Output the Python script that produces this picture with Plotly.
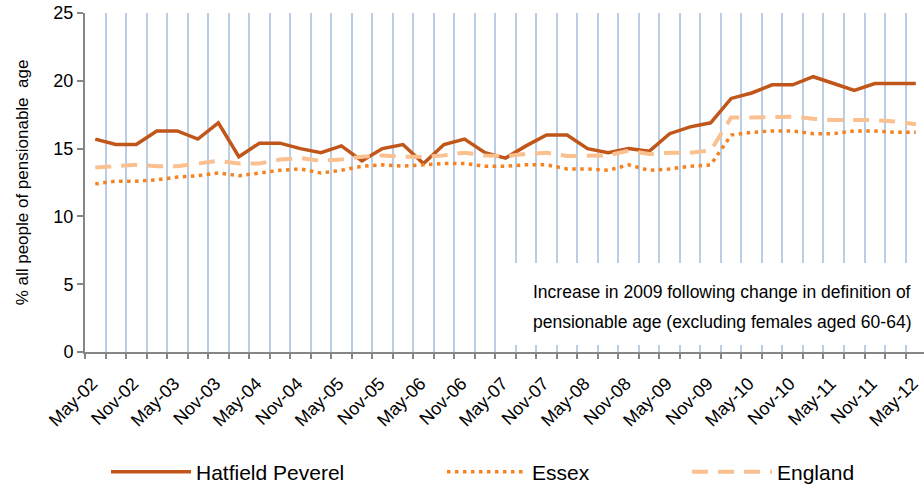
import plotly.graph_objects as go

quarters = []
months = ["Feb", "May", "Aug", "Nov"]
for yr in range(2, 13):
    for m in months:
        quarters.append(f"{m}-{yr:02d}")
categories = quarters[1:42]  # May-02 .. May-12 (41 quarters)

hatfield = [15.7, 15.3, 15.3, 16.3, 16.3, 15.7, 16.9, 14.4, 15.4, 15.4,
            15.0, 14.7, 15.2, 14.1, 15.0, 15.3, 13.9, 15.3, 15.7, 14.7,
            14.3, 15.2, 16.0, 16.0, 15.0, 14.7, 15.0, 14.8, 16.1, 16.6,
            16.9, 18.7, 19.1, 19.7, 19.7, 20.3, 19.8, 19.3, 19.8, 19.8, 19.8]
essex = [12.4, 12.6, 12.6, 12.7, 12.9, 13.0, 13.2, 13.0, 13.2, 13.4,
         13.5, 13.2, 13.4, 13.7, 13.8, 13.7, 13.8, 13.9, 13.9, 13.7,
         13.7, 13.8, 13.8, 13.5, 13.5, 13.4, 13.8, 13.4, 13.5, 13.7,
         13.8, 16.0, 16.2, 16.3, 16.3, 16.1, 16.1, 16.3, 16.3, 16.2, 16.2]
england = [13.6, 13.7, 13.8, 13.7, 13.7, 13.9, 14.1, 13.9, 13.9, 14.2,
           14.3, 14.1, 14.2, 14.4, 14.5, 14.4, 14.4, 14.5, 14.7, 14.5,
           14.45, 14.6, 14.7, 14.45, 14.45, 14.5, 14.85, 14.6, 14.7, 14.7,
           14.85, 17.3, 17.3, 17.35, 17.35, 17.2, 17.1, 17.1, 17.1, 17.0, 16.8]

tick_text = [c if c.startswith(("May", "Nov")) else "" for c in categories]
note_lines = ["Increase in 2009 following change in definition of",
              "pensionable age (excluding females aged 60-64)"]

FONT = "Liberation Sans, Arial, sans-serif"
AXIS_COL = "#868686"

fig = go.Figure()
fig.add_trace(go.Scatter(x=categories, y=hatfield, mode="lines", name="Hatfield Peverel",
                         line=dict(color="#C0561A", width=3.5), legend="legend"))
fig.add_trace(go.Scatter(x=categories, y=essex, mode="lines", name="Essex",
                         line=dict(color="#F5821F", width=3.5, dash="3.5px,4.5px"), legend="legend2"))
fig.add_trace(go.Scatter(x=categories, y=england, mode="lines", name="England",
                         line=dict(color="#FAC090", width=4, dash="16px,10px"), legend="legend3"))

L, R, T, B = 85, 0, 13, 132
W, H = 924, 484
pw, ph = W - L - R, H - T - B

def px(x):
    return (x - L) / pw

def py(y):
    return (H - B - y) / ph

def cy(y):
    return 1 - y / H

legend_common = dict(orientation="h", yanchor="middle", xanchor="left", yref="container",
                     xref="container",
                     font=dict(family=FONT, size=21, color="#000000"),
                     bgcolor="rgba(0,0,0,0)", itemwidth=80)
fig.update_layout(
    width=W, height=H,
    margin=dict(l=L, r=R, t=T, b=B, autoexpand=False),
    paper_bgcolor="white", plot_bgcolor="white",
    font=dict(family=FONT, color="#000000"),
    showlegend=True,
    legend=dict(x=106 / W, y=cy(472), **legend_common),
    legend2=dict(x=442 / W, y=cy(472), **legend_common),
    legend3=dict(x=687 / W, y=cy(472), **legend_common),
    xaxis=dict(
        type="category", categoryorder="array", categoryarray=categories,
        range=[-0.5, 40.4],
        tickmode="array", tickvals=categories, ticktext=tick_text,
        tickson="boundaries", tickangle=-45,
        tickfont=dict(family=FONT, size=18, color="#000000"),
        ticklabelshift=-3, ticklabelstandoff=12,
        ticks="outside", ticklen=5, tickcolor=AXIS_COL, tickwidth=1.5,
        showgrid=True, gridcolor="#B9CDE5", gridwidth=2,
        showline=True, linecolor=AXIS_COL, linewidth=2,
        zeroline=False, automargin=False,
    ),
    yaxis=dict(
        range=[0, 25], tickmode="linear", tick0=0, dtick=5,
        tickfont=dict(family=FONT, size=18, color="#000000"),
        ticks="outside", ticklen=6, tickcolor=AXIS_COL, tickwidth=1.5,
        showgrid=False, showline=True, linecolor=AXIS_COL, linewidth=2,
        zeroline=False, automargin=False,
        title=dict(text="% all people of pensionable  age",
                   font=dict(family=FONT, size=17, color="#000000"), standoff=20),
    ),
)

# white box behind the note
fig.add_annotation(xref="paper", yref="paper", x=px(515), y=py(263),
                   xanchor="left", yanchor="top", text=" ", showarrow=False,
                   width=405, height=82, bgcolor="white", borderpad=0, borderwidth=0)
for line, yc in zip(note_lines, [292, 322]):
    fig.add_annotation(xref="paper", yref="paper", x=px(531), y=py(yc),
                       xanchor="left", yanchor="middle", text=line, showarrow=False,
                       font=dict(family=FONT, size=17.5, color="#000000"))

fig.write_html("out.html", config={"displayModeBar": False},
               post_script="document.body.style.margin='0';")
